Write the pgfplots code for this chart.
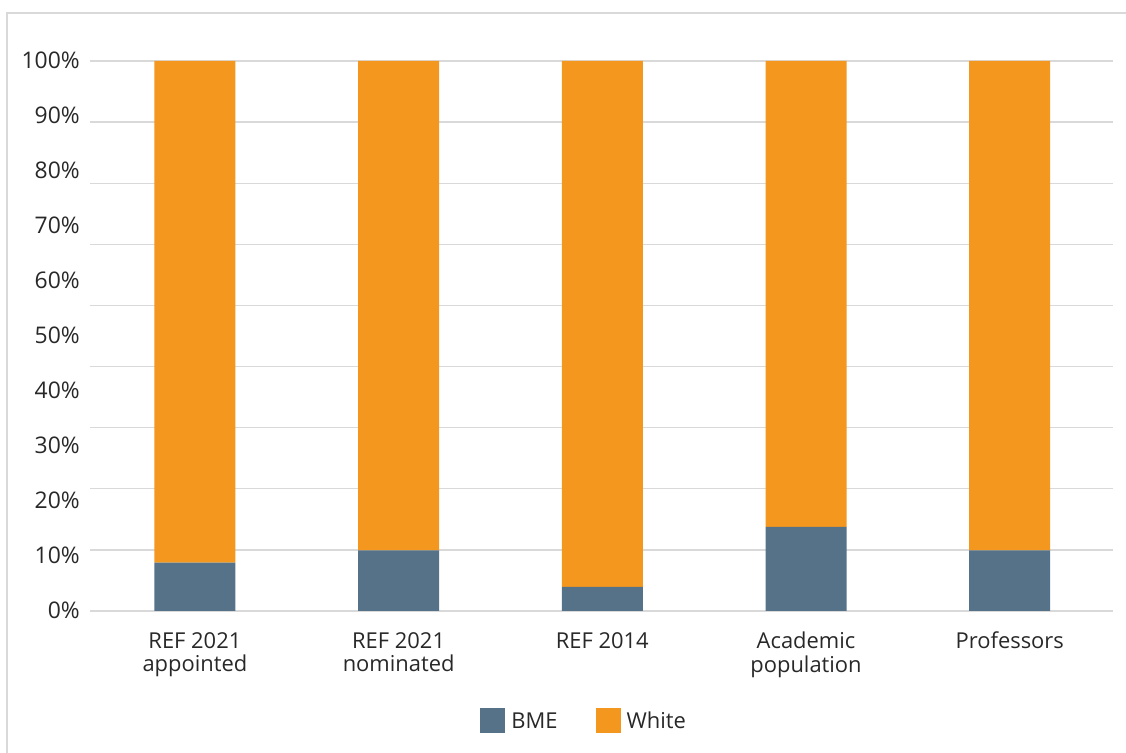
\documentclass[border=0pt]{standalone}
\usepackage{fontspec}
\setmainfont{Open Sans}
\usepackage{pgfplots}
\pgfplotsset{compat=1.18}

\definecolor{bmecol}{RGB}{85,114,137}
\definecolor{whitecol}{RGB}{243,151,30}
\definecolor{gridgray}{RGB}{217,217,217}
\definecolor{txt}{RGB}{40,40,40}

\newcommand{\lblfont}{\fontsize{22}{24}\selectfont}
\newcommand{\yfont}{\fontsize{23}{24}\selectfont}

\begin{document}
\begin{tikzpicture}[x=1bp,y=1bp]
\path[use as bounding box] (0,0) rectangle (1126,753);
% outer frame of the chart area
\draw[gridgray, line width=1.6bp] (7,0) -- (7,740) -- (1126,740);
\begin{axis}[
  at={(90bp,142bp)}, anchor=south west,
  scale only axis, width=1023bp, height=550bp,
  xmin=-0.515, xmax=4.507, ymin=0, ymax=100,
  ybar stacked, bar width=81bp,
  axis line style={draw=none},
  major tick length=0pt,
  xtick={0,1,2,3,4},
  xticklabels={{REF 2021\\appointed},{REF 2021\\nominated},{REF 2014},{Academic\\population},{Professors}},
  xticklabel style={align=center, anchor=north, inner sep=0pt, yshift=-21bp, font=\lblfont, text=txt},
  ytick={0,10,20,30,40,50,60,70,80,90,100},
  yticklabels={0\%,10\%,20\%,30\%,40\%,50\%,60\%,70\%,80\%,90\%,100\%},
  yticklabel style={anchor=east, inner sep=0pt, xshift=-10bp, yshift=1bp, font=\yfont, text=txt},
  extra y ticks={0,11.1111,22.2222,33.3333,44.4444,55.5556,66.6667,77.7778,88.8889,100},
  extra y tick labels={},
  extra y tick style={grid=major, major grid style={gridgray, line width=1.3bp}},
  legend style={at={(0.485,-0.2)}, anchor=center, draw=none, fill=none,
    legend columns=-1, font=\lblfont, text=txt,
    /tikz/every even column/.append style={column sep=32bp},
    nodes={inner xsep=6bp, inner ysep=3bp}},
]
\addplot[fill=bmecol, draw=none,
  legend image code/.code={\fill[bmecol] (0bp,-12.5bp) rectangle (25bp,12.5bp);}]
  coordinates {(0,8.8) (1,11.0) (2,4.4) (3,15.3) (4,11.0)};
\addplot[fill=whitecol, draw=none,
  legend image code/.code={\fill[whitecol] (0bp,-12.5bp) rectangle (25bp,12.5bp);}]
  coordinates {(0,91.2) (1,89.0) (2,95.6) (3,84.7) (4,89.0)};
\legend{BME,White}
\end{axis}
\end{tikzpicture}
\end{document}
